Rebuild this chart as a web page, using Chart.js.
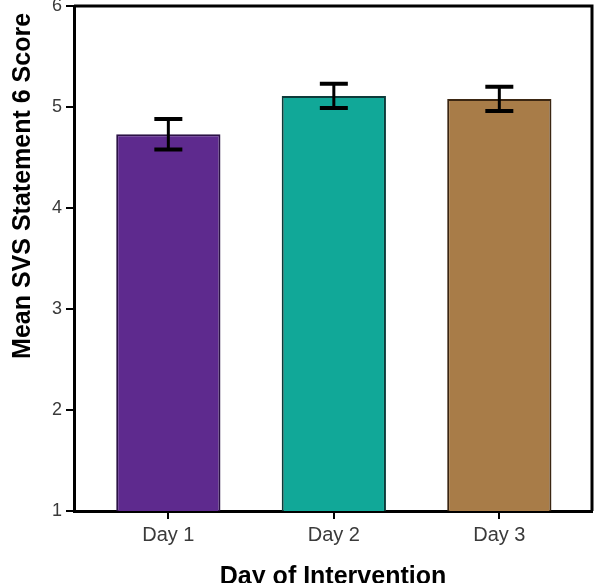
<!DOCTYPE html>
<html>
<head>
<meta charset="utf-8">
<script src="https://cdn.jsdelivr.net/npm/chart.js@4/dist/chart.umd.min.js"></script>
<style>
  html, body { margin: 0; padding: 0; background: #ffffff; }
  #wrap { width: 597px; height: 583px; }
</style>
</head>
<body>
<div id="wrap"><canvas id="c" width="597" height="583"></canvas></div>
<script>
const categories = ["Day 1", "Day 2", "Day 3"];
const positions = [1, 2, 3];
const means = [4.73, 5.11, 5.08];
const errors = [0.15, 0.12, 0.12];
const yTicks = [1, 2, 3, 4, 5, 6];
const fillColors = ["#5e2a8e", "#11a898", "#a87c48"];
const borderColors = ["#2b1245", "#0d3b3a", "#3b2612"];
const FONT = 'Arial, "Liberation Sans", sans-serif';

const errorBars = {
  id: 'errorBars',
  afterDatasetsDraw(chart) {
    const { ctx, scales: { x, y } } = chart;
    ctx.save();
    ctx.strokeStyle = '#000';
    ctx.lineCap = 'butt';
    positions.forEach((p, i) => {
      const px = x.getPixelForValue(p);
      const top = y.getPixelForValue(means[i] + errors[i]);
      const bot = y.getPixelForValue(means[i] - errors[i]);
      ctx.lineWidth = 3;
      ctx.beginPath();
      ctx.moveTo(px, top); ctx.lineTo(px, bot);
      ctx.stroke();
      ctx.lineWidth = 4;
      ctx.beginPath();
      ctx.moveTo(px - 14, top); ctx.lineTo(px + 14, top);
      ctx.moveTo(px - 14, bot); ctx.lineTo(px + 14, bot);
      ctx.stroke();
    });
    ctx.restore();
  }
};

const frame = {
  id: 'frame',
  afterDraw(chart) {
    const { ctx, chartArea: a } = chart;
    ctx.save();
    ctx.strokeStyle = '#000';
    ctx.lineWidth = 3;
    ctx.beginPath();
    ctx.moveTo(a.left, a.top); ctx.lineTo(a.right, a.top); ctx.lineTo(a.right, a.bottom);
    ctx.stroke();
    ctx.restore();
  }
};

new Chart(document.getElementById('c'), {
  type: 'bar',
  data: {
    datasets: [{
      data: positions.map((p, i) => ({ x: p, y: means[i] })),
      backgroundColor: fillColors,
      borderColor: borderColors,
      borderWidth: 2,
      borderSkipped: false,
      barPercentage: 0.63,
      categoryPercentage: 1
    }]
  },
  options: {
    responsive: false,
    animation: false,
    devicePixelRatio: 1,
    layout: { padding: { left: 2, right: 5, top: 6, bottom: 0 } },
    plugins: { legend: { display: false }, tooltip: { enabled: false } },
    scales: {
      x: {
        type: 'linear',
        offset: false,
        min: 0.43,
        max: 3.56,
        afterBuildTicks(scale) { scale.ticks = positions.map(v => ({ value: v })); },
        ticks: {
          callback: (v) => categories[positions.indexOf(v)],
          color: '#3a3a3a',
          font: { family: FONT, size: 20 },
          padding: 4,
          maxRotation: 0
        },
        grid: { display: true, offset: false, drawOnChartArea: false, drawTicks: true, tickLength: 8, color: '#000', lineWidth: 2 },
        border: { display: true, color: '#000', width: 3 },
        title: {
          display: true,
          text: 'Day of Intervention',
          color: '#000',
          font: { family: FONT, size: 25, weight: 'bold' },
          padding: { top: 11, bottom: -9 }
        }
      },
      y: {
        min: 1,
        max: 6,
        afterBuildTicks(scale) { scale.ticks = yTicks.map(v => ({ value: v })); },
        afterFit(scale) { scale.paddingTop = 0; },
        ticks: {
          color: '#3a3a3a',
          font: { family: FONT, size: 18 },
          padding: 4
        },
        grid: { display: true, drawOnChartArea: false, drawTicks: true, tickLength: 8, color: '#000', lineWidth: 2 },
        border: { display: true, color: '#000', width: 3 },
        title: {
          display: true,
          text: 'Mean SVS Statement 6 Score ',
          color: '#000',
          align: 'end',
          font: { family: FONT, size: 25, weight: 'bold' },
          padding: { top: 6, bottom: 10 }
        }
      }
    }
  },
  plugins: [errorBars, frame]
});
</script>
</body>
</html>
